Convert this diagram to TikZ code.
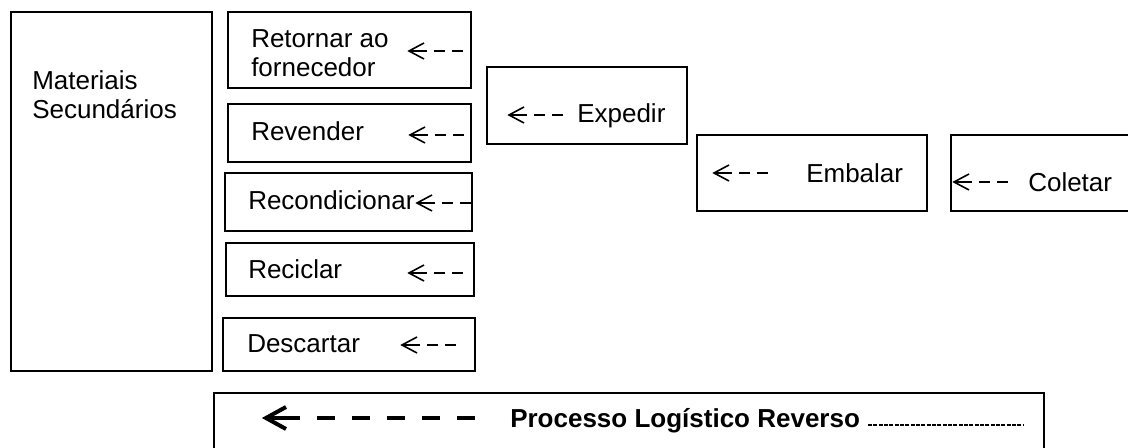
\documentclass[tikz,border=0pt]{standalone}
\usepackage{fontspec}
\setmainfont{Liberation Sans}
\usetikzlibrary{fit}

\tikzset{
  box/.style={draw, line width=1.2pt, inner sep=0pt},
  lbl/.style={inner sep=0pt, anchor=base west, font=\fontsize{19.5}{22}\selectfont},
  blbl/.style={lbl, font=\fontsize{19.5}{22}\selectfont\bfseries},
  arr/.style={line width=1.2pt},
  barr/.style={line width=3pt},
  % small "<- -" arrow, tip at the pic origin
  backarrow/.pic={
    \draw[arr] (15,-8) -- (0,0) -- (15,8);
    \draw[arr] (0,0) -- (18,0);
    \draw[arr] (25,0) -- (36,0) (43,0) -- (54,0);
  }
}

\begin{document}
\begin{tikzpicture}[x=0.75pt,y=-0.75pt]
\useasboundingbox (0,0) rectangle (1128,448);
\fill[white] (0,0) rectangle (1128,448);
\clip (0,0) rectangle (1128,448);

% boxes
\node[box, fit={(11,12) (212,371)}] (mat) {};
\node[box, fit={(228,12) (471,88)}] (ret) {};
\node[box, fit={(228,104) (471,162)}] (rev) {};
\node[box, fit={(225,173) (472,231)}] (rec) {};
\node[box, fit={(226,243) (474,296)}] (rcl) {};
\node[box, fit={(223,318) (475,371)}] (des) {};
\node[box, fit={(487,67) (687,144)}] (exp) {};
\node[box, fit={(697,135) (927,211)}] (emb) {};
\node[box, fit={(951,135) (1140,211)}] (col) {};
\node[box, fit={(214,393) (1044,470)}] (proc) {};

% labels
\node[lbl] (tmat1) at (32,90) {Materiais};
\node[lbl] (tmat2) at (32,119) {Secundários};
\node[lbl] (tret1) at (251,48) {Retornar ao};
\node[lbl] (tret2) at (251,77) {fornecedor};
\node[lbl] (trev) at (251,141) {Revender};
\node[lbl] (trec) at (248,210) {Recondicionar};
\node[lbl] (trcl) at (248,279) {Reciclar};
\node[lbl] (tdes) at (247,353) {Descartar};
\node[lbl] (texp) at (577,123) {Expedir};
\node[lbl] (temb) at (806,183) {Embalar};
\node[lbl] (tcol) at (1028,192) {Coletar};
\node[blbl] (tproc) at (510,428) {Processo Logístico Reverso};

% flow arrows inside the boxes
\pic at (409,51) {backarrow};
\pic at (410,135) {backarrow};
\pic at (417,203) {backarrow};
\pic at (409,273) {backarrow};
\pic at (402,345) {backarrow};
\pic at (509,115) {backarrow};
\pic at (714,173) {backarrow};
\pic at (954,182) {backarrow};

% bold arrow of the legend
\coordinate (ptip) at (266,418);
\draw[barr] (286,407) -- (ptip) -- (286,429);
\draw[barr] (ptip) -- (300,418);
\draw[barr] (317,418) -- (335,418) (352,418) -- (370,418) (387,418) -- (405,418)
            (422,418) -- (440,418) (457,418) -- (475,418);
\draw[line width=1.5pt, dash pattern=on 3pt off 1pt] (868,425) -- (1023,425);
\end{tikzpicture}
\end{document}
